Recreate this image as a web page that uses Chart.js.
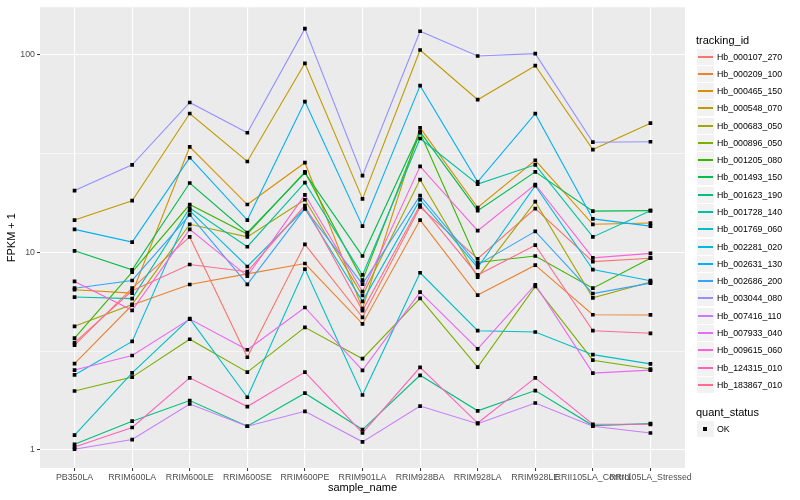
<!DOCTYPE html>
<html>
<head>
<meta charset="utf-8">
<script src="https://cdn.jsdelivr.net/npm/chart.js"></script>
<style>
  body { margin: 0; background: #fff; }
  #wrap { position: relative; width: 800px; height: 500px; font-family: "Liberation Sans", Arial, sans-serif; }
  #chart { position: absolute; left: 0; top: 0; }
  .leg-title { position: absolute; left: 696px; font-size: 11px; line-height: 13px; color: #000; }
  .leg-item { position: absolute; left: 697px; width: 100px; height: 17px; }
  .leg-key { position: absolute; left: 0; top: 0; width: 17px; height: 16px; background: #F2F2F2; }
  .leg-line { position: absolute; left: 1px; top: 7px; width: 15px; height: 1.5px; }
  .leg-dot { position: absolute; left: 6px; top: 6px; width: 4px; height: 4px; background: #000; }
  .leg-text { position: absolute; left: 20px; top: 0; font-size: 8.8px; line-height: 16px; color: #000; white-space: nowrap; }
</style>
</head>
<body>
<div id="wrap">
  <canvas id="chart" width="800" height="500"></canvas>
  <div id="legend"></div>
</div>
<script>
// data (FPKM + 1)
const sampleNames = ["PB350LA", "RRIM600LA", "RRIM600LE", "RRIM600SE", "RRIM600PE", "RRIM901LA",
  "RRIM928BA", "RRIM928LA", "RRIM928LE", "RRII105LA_Control", "RRII105LA_Stressed"];

const trackingIds = ["Hb_000107_270", "Hb_000209_100", "Hb_000465_150", "Hb_000548_070", "Hb_000683_050",
  "Hb_000896_050", "Hb_001205_080", "Hb_001493_150", "Hb_001623_190", "Hb_001728_140",
  "Hb_001769_060", "Hb_002281_020", "Hb_002631_130", "Hb_002686_200", "Hb_003044_080",
  "Hb_007416_110", "Hb_007933_040", "Hb_009615_060", "Hb_124315_010", "Hb_183867_010"];

const seriesColors = ["#F8766D", "#EA8331", "#D89000", "#C09B00", "#A3A500", "#7CAE00", "#39B600", "#00BB4E",
  "#00BF7D", "#00C1A3", "#00BFC4", "#00BAE0", "#00B0F6", "#35A2FF", "#9590FF", "#C77CFF",
  "#E76BF3", "#FA62DB", "#FF62BC", "#FF6C91"];

const hb000107 = [3.4, 6.6, 12.0, 2.95, 11.0, 4.7, 17.0, 9.3, 16.7, 9.0, 9.36];
const hb000209 = [2.74, 5.42, 6.89, 7.8, 8.8, 4.35, 14.6, 6.09, 8.63, 4.84, 4.83];
const hb000465 = [6.48, 6.23, 34.3, 17.5, 28.5, 5.2, 42.8, 16.9, 29.3, 13.9, 14.1];
const hb000548 = [14.6, 18.3, 50.6, 28.9, 90.8, 18.7, 106, 59.4, 88.3, 33.2, 45.2];
const hb000683 = [4.23, 5.46, 13.9, 12.0, 18.5, 6.06, 23.4, 7.5, 18.1, 5.9, 7.1];
const hb000896 = [1.99, 2.34, 3.64, 2.48, 4.18, 2.9, 5.86, 2.63, 6.73, 2.85, 2.57];
const hb001205 = [3.69, 7.95, 17.5, 12.4, 25.6, 7.25, 40.4, 8.9, 9.6, 6.6, 9.36];
const hb001493 = [10.2, 8.18, 22.5, 12.6, 25.3, 9.6, 40.8, 16.3, 25.6, 16.2, 16.3];
const hb001623 = [1.07, 1.4, 1.78, 1.32, 1.94, 1.27, 2.39, 1.58, 2.0, 1.33, 1.36];
const hb001728 = [5.95, 5.84, 16.8, 10.7, 22.6, 7.7, 37.8, 22.2, 27.8, 12.0, 16.3];
const hb001769 = [1.19, 2.46, 4.63, 1.85, 8.24, 1.9, 7.9, 4.02, 3.96, 3.04, 2.73];
const hb002281 = [2.4, 3.55, 16.3, 8.5, 16.7, 5.66, 18.5, 8.4, 21.8, 8.2, 7.2];
const hb002631 = [13.1, 11.3, 30.2, 14.6, 58.1, 13.6, 70, 22.8, 50.5, 14.8, 13.6];
const hb002686 = [6.6, 7.22, 15.5, 6.9, 16.7, 6.92, 19.4, 8.66, 12.8, 6.2, 7.0];
const hb003044 = [20.6, 27.8, 57.5, 40.4, 136, 24.5, 132, 98.9, 101.7, 36.2, 36.4];
const hb007416 = [1.01, 1.13, 1.71, 1.32, 1.57, 1.1, 1.67, 1.36, 1.73, 1.32, 1.22];
const hb007933 = [2.54, 3.01, 4.6, 3.22, 5.27, 2.53, 6.3, 3.25, 6.87, 2.45, 2.54];
const hb009615 = [7.14, 5.1, 13.1, 7.6, 19.6, 6.35, 27.3, 12.9, 22.1, 9.4, 9.9];
const hb124315 = [1.035, 1.3, 2.32, 1.66, 2.48, 1.22, 2.62, 1.37, 2.32, 1.35, 1.35];
const hb183867 = [3.5, 6.4, 8.7, 8.0, 17.3, 5.08, 17.4, 7.7, 10.9, 4.02, 3.9];

const seriesValues = [hb000107, hb000209, hb000465, hb000548, hb000683, hb000896, hb001205, hb001493,
  hb001623, hb001728, hb001769, hb002281, hb002631, hb002686, hb003044, hb007416,
  hb007933, hb009615, hb124315, hb183867];

const yTickLabels = [1, 10, 100];
const yGridValues = [1, Math.sqrt(10), 10, Math.sqrt(1000), 100];

// panel background like ggplot grey theme
const panelBg = {
  id: "panelBg",
  beforeDraw(chart) {
    const { ctx, chartArea: a } = chart;
    ctx.save();
    ctx.fillStyle = "#EBEBEB";
    ctx.fillRect(a.left, a.top, a.right - a.left, a.bottom - a.top);
    ctx.restore();
  }
};

const toPoints = (vals) => vals.map((v, j) => ({ x: j, y: v }));

const lineSets = trackingIds.map((id, i) => ({
  label: id,
  data: toPoints(seriesValues[i]),
  borderColor: seriesColors[i],
  borderWidth: 1.1,
  pointRadius: 0,
  fill: false,
  order: 100 - i
}));

const pointSet = {
  label: "OK",
  data: seriesValues.flatMap(toPoints),
  showLine: false,
  pointStyle: "rect",
  pointRadius: 2.6,
  backgroundColor: "#000",
  borderWidth: 0,
  order: 0
};

const isMajor = (v) => yTickLabels.some(t => Math.abs(t - v) < 1e-6);

new Chart("chart", {
  type: "line",
  data: { datasets: [...lineSets, pointSet] },
  plugins: [panelBg],
  options: {
    responsive: false,
    animation: false,
    layout: { padding: { top: 5, right: 115, left: 0, bottom: 0 } },
    plugins: { legend: { display: false }, tooltip: { enabled: false } },
    scales: {
      x: {
        type: "linear",
        min: -0.6,
        max: 10.6,
        bounds: "data",
        afterBuildTicks: (s) => { s.ticks = sampleNames.map((_, i) => ({ value: i })); },
        afterFit: (s) => { s.height = 32; },
        ticks: {
          autoSkip: false,
          maxRotation: 0,
          padding: 1,
          color: "#4D4D4D",
          font: { family: "Liberation Sans", size: 8.8 },
          callback: (v) => sampleNames[v]
        },
        grid: { color: "#fff", lineWidth: 1.1, tickLength: 3, tickColor: "#333", tickWidth: 1 },
        border: { display: false },
        title: {
          display: true, text: "sample_name", color: "#000",
          font: { family: "Liberation Sans", size: 11 }, padding: { bottom: 5 }
        }
      },
      y: {
        type: "logarithmic",
        min: 0.811,
        max: 174.5,
        bounds: "data",
        afterBuildTicks: (s) => { s.ticks = yGridValues.map(v => ({ value: v })); },
        afterFit: (s) => { s.width = 40; },
        ticks: {
          padding: 2,
          color: "#4D4D4D",
          font: { family: "Liberation Sans", size: 8.8 },
          callback: (v) => isMajor(v) ? String(Math.round(v)) : ""
        },
        grid: {
          color: "#fff",
          lineWidth: (c) => isMajor(c.tick.value) ? 1.1 : 0.55,
          tickLength: 3,
          tickWidth: 1,
          tickColor: (c) => isMajor(c.tick.value) ? "#333" : "rgba(0,0,0,0)"
        },
        border: { display: false },
        title: {
          display: true, text: "FPKM + 1", color: "#000",
          font: { family: "Liberation Sans", size: 11 }, padding: { top: 5 }
        }
      }
    }
  }
});

// legend, ggplot style
const legend = document.getElementById("legend");
let html = '<div class="leg-title" style="top:34px">tracking_id</div>';
trackingIds.forEach((id, i) => {
  const top = Math.round(48.5 + i * 17.28);
  html += `<div class="leg-item" style="top:${top}px"><div class="leg-key"><div class="leg-line" style="background:${seriesColors[i]}"></div></div><div class="leg-text">${id}</div></div>`;
});
html += '<div class="leg-title" style="top:406px">quant_status</div>';
html += '<div class="leg-item" style="top:421px"><div class="leg-key"><div class="leg-dot"></div></div><div class="leg-text">OK</div></div>';
legend.innerHTML = html;
</script>
</body>
</html>
